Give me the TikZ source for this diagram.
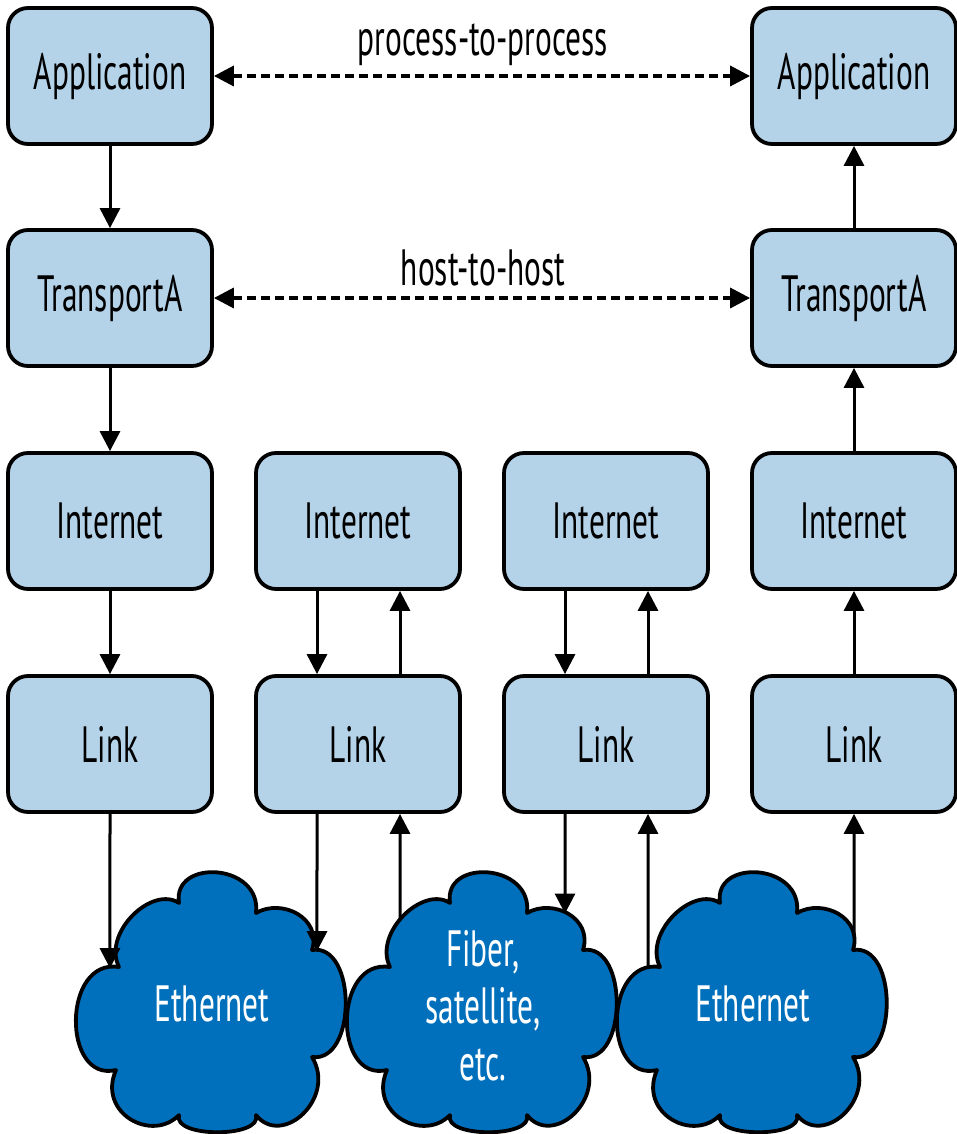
\documentclass[tikz,border=0pt]{standalone}
\usepackage{fontspec}
\setmainfont{PT Sans}[FakeStretch=0.615]
\usetikzlibrary{arrows.meta,intersections}
\definecolor{boxfill}{RGB}{180,211,233}
\definecolor{cloudfill}{RGB}{0,112,188}
\newcommand{\cloudoutline}{(-33,-100) .. controls (-60,-118) and (-110,-70) .. (-93,-36)
  .. controls (-150,-45) and (-150,80) .. (-96,67)
  .. controls (-115,110) and (-60,140) .. (-33,112)
  .. controls (-40,135) and (51,135) .. (44,112)
  .. controls (70,145) and (125,95) .. (100,54)
  .. controls (145,60) and (145,-60) .. (100,-53)
  .. controls (110,-85) and (70,-105) .. (44,-90)
  .. controls (50,-140) and (-40,-145) .. (-33,-100) -- cycle}
\tikzset{
  layer/.style={draw, line width=3.8pt, rounded corners=20pt, fill=boxfill,
    minimum width=204pt, minimum height=136pt, inner sep=0pt,
    font=\fontsize{51}{56}\selectfont},
  cloudline/.style={draw, line width=3.8pt, fill=cloudfill, line join=round},
  cloudtext/.style={text=white, inner sep=0pt, align=center,
    font=\fontsize{51}{57}\selectfont},
  arr/.style={line width=3pt, -{Triangle[length=20pt,width=20pt]}},
  darr/.style={line width=3.5pt, dash pattern=on 9pt off 5pt,
    {Triangle[length=20pt,width=20pt]}-{Triangle[length=20pt,width=20pt]}},
  lbl/.style={font=\fontsize{51}{56}\selectfont, inner sep=0pt}
}
\begin{document}
\begin{tikzpicture}[x=1pt,y=-1pt]
\useasboundingbox (0,0) rectangle (957,1134);
% clouds
\begin{scope}[shift={(212,1003)}]
  \path[cloudline, name path global=p1] \cloudoutline;
\end{scope}
\begin{scope}[shift={(483,1003)}]
  \path[cloudline, name path global=p2] \cloudoutline;
\end{scope}
\begin{scope}[shift={(753,1003)}]
  \path[cloudline, name path global=p3] \cloudoutline;
\end{scope}
\node[cloudtext] (c1) at (212,1004) {Ethernet};
\node[cloudtext] (c2) at (483,1006) {Fiber,\\satellite,\\etc.};
\node[cloudtext] (c3) at (753,1004) {Ethernet};
% boxes
\node[layer] (a1) at (110,76) {Application};
\node[layer] (t1) at (110,298) {TransportA};
\node[layer] (i1) at (110,521) {Internet};
\node[layer] (l1) at (110,744) {Link};
\node[layer] (i2) at (358,521) {Internet};
\node[layer] (l2) at (358,744) {Link};
\node[layer] (i3) at (606,521) {Internet};
\node[layer] (l3) at (606,744) {Link};
\node[layer] (a4) at (854,76) {Application};
\node[layer] (t4) at (854,298) {TransportA};
\node[layer] (i4) at (854,521) {Internet};
\node[layer] (l4) at (854,744) {Link};
% labels
\node[lbl] (p2p) at (483,45) {process-to-process};
\node[lbl] (h2h) at (483,268) {host-to-host};
% dashed
\draw[darr] (a1.east) -- (a4.west);
\draw[darr] (t1.east) -- (t4.west);
% column 1
\draw[arr] (a1) -- (t1);
\draw[arr] (t1) -- (i1);
\draw[arr] (i1) -- (l1);
% cloud attachment points
\path[name path=v1] (l1.south) -- ++(0,200);
\path[name path=v2] ([xshift=-41pt]l2.south) -- ++(0,200);
\path[name path=v3] ([xshift=42pt]l2.south) -- ++(0,200);
\path[name path=v4] ([xshift=-41pt]l3.south) -- ++(0,200);
\path[name path=v5] ([xshift=42pt]l3.south) -- ++(0,200);
\path[name path=v6] (l4.south) -- ++(0,200);
\path[name intersections={of=p1 and v1, by={e1}, sort by=v1}];
\path[name intersections={of=p1 and v2, by={e2}, sort by=v2}];
\path[name intersections={of=p2 and v3, by={s2}, sort by=v3}];
\path[name intersections={of=p2 and v4, by={e3}, sort by=v4}];
\path[name intersections={of=p3 and v5, by={s3}, sort by=v5}];
\path[name intersections={of=p3 and v6, by={s4}, sort by=v6}];
\draw[arr] (l1.south) -- ([yshift=-1.5pt]e1);
% column 2
\draw[arr] ([xshift=-41pt]i2.south) -- ([xshift=-41pt]l2.north);
\draw[arr] ([xshift=42pt]l2.north) -- ([xshift=42pt]i2.south);
\draw[arr] ([xshift=-41pt]l2.south) -- ([yshift=-1.5pt]e2);
\draw[arr] (s2) -- ([xshift=42pt]l2.south);
% column 3
\draw[arr] ([xshift=-41pt]i3.south) -- ([xshift=-41pt]l3.north);
\draw[arr] ([xshift=42pt]l3.north) -- ([xshift=42pt]i3.south);
\draw[arr] ([xshift=-41pt]l3.south) -- ([yshift=-1.5pt]e3);
\draw[arr] (s3) -- ([xshift=42pt]l3.south);
% column 4
\draw[arr] (s4) -- (l4.south);
\draw[arr] (l4) -- (i4);
\draw[arr] (i4) -- (t4);
\draw[arr] (t4) -- (a4);
\end{tikzpicture}
\end{document}
